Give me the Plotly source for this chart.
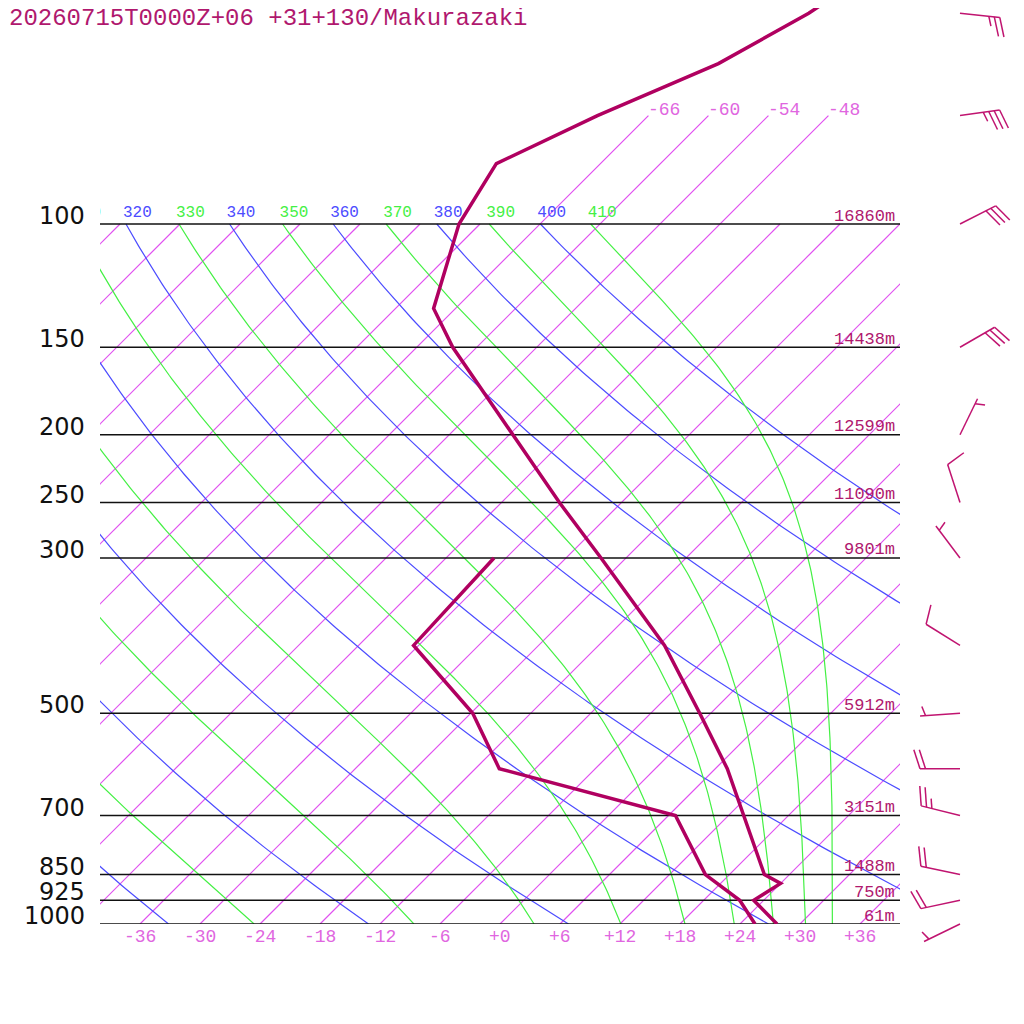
import numpy as np
import plotly.graph_objects as go

title = '20260715T0000Z+06 +31+130/Makurazaki'

# temperature profile (hPa, degC)
t_pres = [1000, 925, 875, 850, 600, 500, 400, 300, 250, 200, 150, 132, 100, 82, 70, 59, 50, 30]
t_temp = [27.7, 23.0, 24.0, 21.5, 7.2, -1.1, -11.4, -26.5, -36.2, -47.6, -62.4, -68.2,
          -74.1, -76.4, -71.1, -64.2, -60.2, -52.5]

# dew point profile
td_pres = [1000, 925, 850, 700, 600, 500, 400, 300]
td_temp = [25.5, 21.6, 15.6, 6.7, -15.6, -23.8, -36.5, -37.2]

# standard levels and their heights (m)
lev_pres = [100, 150, 200, 250, 300, 500, 700, 850, 925, 1000]
lev_hgt = [16860, 14438, 12599, 11090, 9801, 5912, 3151, 1488, 750, 61]

# winds: direction (deg, from), speed (kt)
wind_pres = [50, 70, 100, 150, 200, 250, 300, 400, 500, 600, 700, 850, 925, 1000]
wind_dir = [96, 82, 63, 60, 26, 342, 323, 302, 266, 270, 284, 282, 258, 244]
wind_spd = [25, 35, 30, 30, 5, 10, 5, 10, 5, 20, 25, 20, 20, 5]

# background lines
isotherms = list(range(-126, 37, 6))
upper_isotherms = [-66, -60, -54, -48]
temp_ticks = list(range(-36, 37, 6))
dry_thetas = list(range(220, 401, 20))
moist_thetas = list(range(250, 411, 20))

SKEW = 70.0   # degC per decade of pressure
PXDEC = 700.0  # pixels per decade of pressure
OFF = 8        # page margin the browser puts round the figure
TEMP_COL = '#b00060'
LABEL_COL = '#b0186e'
ISO_COL = '#e050f0'
ISO_TXT = '#e066e0'
DRY_COL = '#4c4cff'
WET_COL = '#44f044'
MONO = 'Liberation Mono'


def skew_x(t, p):
    return np.asarray(t, dtype=float) + SKEW * np.log10(1000.0 / np.asarray(p, dtype=float))


def theta_es(tk, p):
    # Bolton pseudo-equivalent potential temperature of saturated air
    es = 6.112 * np.exp(17.67 * (tk - 273.15) / (tk - 29.65))
    ok = es < 0.8 * p
    es = np.where(ok, es, 0.0)
    r = 0.622 * es / (p - es)
    th = tk * (1000.0 / p) ** (0.2854 * (1 - 0.28 * r))
    the = th * np.exp((3.376 / tk - 0.00254) * r * 1000 * (1 + 0.81 * r))
    return np.where(ok, the, np.inf)


def moist_temp(the, p):
    lo = np.full_like(p, 150.0)
    hi = np.full_like(p, 330.0)
    for _ in range(50):
        mid = 0.5 * (lo + hi)
        big = theta_es(mid, p) > the
        hi = np.where(big, mid, hi)
        lo = np.where(big, lo, mid)
    return 0.5 * (lo + hi) - 273.15


def join(lines):
    xs, ys = [], []
    for x, y in lines:
        xs += [float(v) for v in x] + [None]
        ys += [float(v) for v in y] + [None]
    return xs, ys


pp = np.logspace(3, 2, 200)

fig = go.Figure()

# isotherms, one trace each
for t in isotherms:
    ptop = 70 if t in upper_isotherms else 100
    fig.add_trace(go.Scatter(x=[float(v) for v in skew_x([t, t], [1000, ptop])], y=[1000, ptop],
                             mode='lines', line=dict(color=ISO_COL, width=1.2), hoverinfo='skip'))

# dry adiabats
dry = []
for th in dry_thetas:
    tc = th * (pp / 1000.0) ** 0.2857 - 273.15
    dry.append((skew_x(tc, pp), pp))
x, y = join(dry)
fig.add_trace(go.Scatter(x=x, y=y, mode='lines', line=dict(color=DRY_COL, width=1.2), hoverinfo='skip'))

# moist adiabats
wet = []
for th in moist_thetas:
    tc = moist_temp(th, pp)
    wet.append((skew_x(tc, pp), pp))
x, y = join(wet)
fig.add_trace(go.Scatter(x=x, y=y, mode='lines', line=dict(color=WET_COL, width=1.2), hoverinfo='skip'))

# isobars
x, y = join([([-40, 40], [p, p]) for p in lev_pres])
fig.add_trace(go.Scatter(x=x, y=y, mode='lines', line=dict(color='#111111', width=1.5), hoverinfo='skip'))

# adiabat labels at 100 hPa, only where the line meets the frame (the plot area clips them)
lab_p = 100 * 10 ** (-3 / PXDEC)
dry_lx = [float(skew_x(th * 0.1 ** 0.2857 - 273.15, 100)) for th in dry_thetas]
wet_lx = [float(skew_x(moist_temp(th, np.array([100.0]))[0], 100)) for th in moist_thetas]
for xs_, ths, col in ((dry_lx, dry_thetas, DRY_COL), (wet_lx, moist_thetas, WET_COL)):
    keep = [i for i, v in enumerate(xs_) if v > -43.5]
    fig.add_trace(go.Scatter(x=[xs_[i] - 0.3 for i in keep], y=[lab_p] * len(keep), mode='text',
                             text=[str(ths[i]) for i in keep], textposition='top right',
                             textfont=dict(family=MONO, size=16, color=col),
                             cliponaxis=True, hoverinfo='skip'))

# sounding
fig.add_trace(go.Scatter(x=skew_x(td_temp, td_pres), y=td_pres, mode='lines',
                         line=dict(color=TEMP_COL, width=3.5), hoverinfo='skip'))
fig.add_trace(go.Scatter(x=skew_x(t_temp, t_pres), y=t_pres, mode='lines',
                         line=dict(color=TEMP_COL, width=3.5), hoverinfo='skip'))


# wind barbs, drawn in pixel units on their own axis
def barb(p, d, spd):
    h = PXDEC * np.log10(1000.0 / p)
    base = np.array([960.0, h])
    u = np.array([np.sin(np.radians(d)), np.cos(np.radians(d))])
    tip = base + 40 * u
    a = np.radians(-72)
    v = np.array([u[0] * np.cos(a) - u[1] * np.sin(a), u[0] * np.sin(a) + u[1] * np.cos(a)])
    segs = [(base, tip)]
    full = int(spd // 10)
    half = (spd % 10) >= 5
    pos = 0 if full else 1
    for k in range(full):
        s = tip - pos * 5.5 * u
        segs.append((s, s + 20 * v))
        pos += 1
    if half:
        s = tip - pos * 5.5 * u
        segs.append((s, s + 10 * v))
    out = []
    for a0, a1 in segs:
        out.append(([a0[0], a1[0]], [1000 * 10 ** (-a0[1] / PXDEC), 1000 * 10 ** (-a1[1] / PXDEC)]))
    return out


bl = []
for p, d, s in zip(wind_pres, wind_dir, wind_spd):
    bl += barb(p, d, s)
x, y = join(bl)
fig.add_trace(go.Scatter(x=x, y=y, mode='lines', xaxis='x2', yaxis='y2',
                         line=dict(color='#c01470', width=1.5), hoverinfo='skip'))

# text
for p in lev_pres:
    fig.add_annotation(text=str(p), xref='paper', x=(87 - OFF) / 1024, yref='y', y=np.log10(p),
                       xanchor='right', yanchor='middle', yshift=8, showarrow=False,
                       font=dict(family='DejaVu Sans', size=24, color='#111111'))
for p, z in zip(lev_pres, lev_hgt):
    fig.add_annotation(text='%dm' % z, xref='x', x=39.7, yref='y', y=np.log10(p),
                       xanchor='right', yanchor='middle', yshift=8, showarrow=False,
                       font=dict(family=MONO, size=17, color=LABEL_COL))
for t in temp_ticks:
    fig.add_annotation(text='%+d' % t, xref='x', x=t, yref='y', y=3,
                       xanchor='center', yanchor='middle', yshift=-13, showarrow=False,
                       font=dict(family=MONO, size=18, color=ISO_TXT))
for t in upper_isotherms:
    fig.add_annotation(text=str(t), xref='x', x=float(skew_x(t, 70)), yref='y', y=np.log10(70),
                       xanchor='left', yanchor='middle', yshift=6, xshift=-2, showarrow=False,
                       font=dict(family=MONO, size=18, color=ISO_TXT))

fig.add_annotation(text=title, xref='paper', yref='paper', x=(7 - OFF) / 1024,
                   y=1 - (18 - OFF) / 1024, xanchor='left', yanchor='middle', showarrow=False,
                   font=dict(family=MONO, size=24, color=LABEL_COL))

# plot area: 100..900 px across, top edge .. 924 px down (1000 hPa)
top_px = OFF
fig.update_layout(
    width=1024, height=1024,
    margin=dict(l=0, r=0, t=0, b=0),
    paper_bgcolor='white', plot_bgcolor='white',
    showlegend=False,
    xaxis=dict(domain=[(100 - OFF) / 1024, (900 - OFF) / 1024], range=[-40, 40], visible=False),
    yaxis=dict(domain=[(1024 - 924 + OFF) / 1024, 1], type='log',
               range=[3, 3 - (924 - top_px) / PXDEC], visible=False),
    xaxis2=dict(domain=[(900 - OFF) / 1024, 1], range=[900, 1024 + OFF], visible=False, anchor='y2'),
    yaxis2=dict(domain=[0, 1], type='log',
                range=[3 + (1024 + OFF - 924) / PXDEC, 3 - (924 - top_px) / PXDEC],
                visible=False, anchor='x2'),
)

fig.write_html('out.html')
